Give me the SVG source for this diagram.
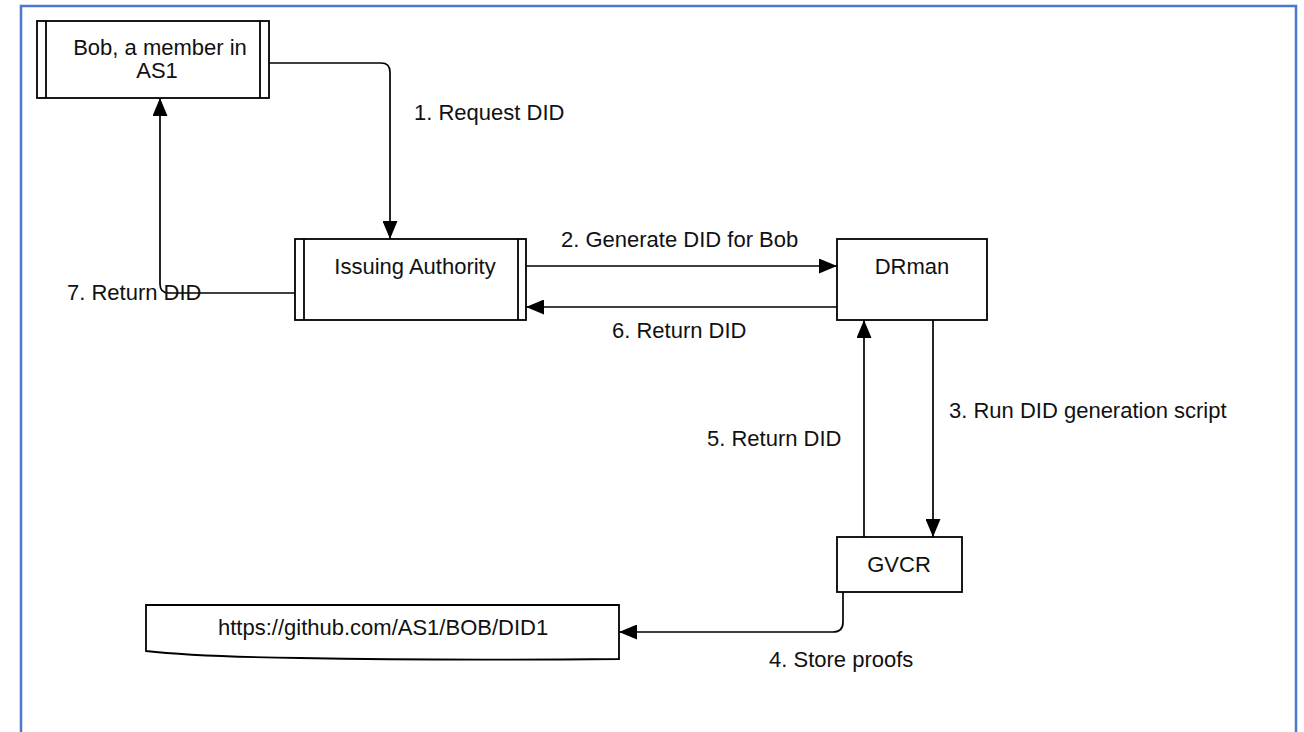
<svg xmlns="http://www.w3.org/2000/svg" width="1304" height="732" viewBox="0 0 1304 732">
  <style>
    .box { fill: #ffffff; stroke: #000000; stroke-width: 1.8; }
    .bar { fill: none; stroke: #000000; stroke-width: 1.8; }
    .edge { fill: none; stroke: #000000; stroke-width: 1.7; }
    .lbl { font-family: "Liberation Sans", Arial, sans-serif; font-size: 22px; fill: #111111; }
    .mid { text-anchor: middle; }
  </style>
  <defs>
    <marker id="arrow" viewBox="0 0 18 15" refX="18" refY="7.5" markerWidth="18" markerHeight="15" markerUnits="userSpaceOnUse" orient="auto">
      <path d="M0,0 L18,7.5 L0,15 Z" fill="#000000"/>
    </marker>
  </defs>

  <rect x="0" y="0" width="1304" height="732" fill="#ffffff"/>
  <!-- outer frame -->
  <path d="M21,740 V6 H1296 V740" fill="none" stroke="#4a78cf" stroke-width="2.5"/>

  <g id="connectors">
    <!-- 1. Request DID -->
    <path class="edge" d="M269,63 H381 Q390,63 390,72 V239" marker-end="url(#arrow)"/>
    <!-- 2. Generate DID for Bob -->
    <path class="edge" d="M526,266 H837" marker-end="url(#arrow)"/>
    <!-- 6. Return DID -->
    <path class="edge" d="M837,307 H526" marker-end="url(#arrow)"/>
    <!-- 7. Return DID -->
    <path class="edge" d="M295,293 H169 Q160,293 160,284 V98" marker-end="url(#arrow)"/>
    <!-- 3. Run DID generation script -->
    <path class="edge" d="M933,320 V537" marker-end="url(#arrow)"/>
    <!-- 5. Return DID -->
    <path class="edge" d="M864,537 V320" marker-end="url(#arrow)"/>
    <!-- 4. Store proofs -->
    <path class="edge" d="M843,592 V622 Q843,632 833,632 H619" marker-end="url(#arrow)"/>

    <text class="lbl" x="414" y="120">1. Request DID</text>
    <text class="lbl" x="561" y="247">2. Generate DID for Bob</text>
    <text class="lbl" x="612" y="338">6. Return DID</text>
    <text class="lbl" x="67" y="300">7. Return DID</text>
    <text class="lbl" x="949" y="418">3. Run DID generation script</text>
    <text class="lbl" x="707" y="446">5. Return DID</text>
    <text class="lbl" x="769" y="667">4. Store proofs</text>
  </g>

  <g id="bob">
    <rect class="box" x="37" y="21" width="232" height="77"/>
    <line class="bar" x1="46" y1="21" x2="46" y2="98"/>
    <line class="bar" x1="260" y1="21" x2="260" y2="98"/>
    <text class="lbl mid" x="160" y="55">Bob, a member in</text>
    <text class="lbl mid" x="157" y="78">AS1</text>
  </g>

  <g id="issuing-authority">
    <rect class="box" x="295" y="239" width="231" height="81"/>
    <line class="bar" x1="304" y1="239" x2="304" y2="320"/>
    <line class="bar" x1="518" y1="239" x2="518" y2="320"/>
    <text class="lbl mid" x="415" y="274">Issuing Authority</text>
  </g>

  <g id="drman">
    <rect class="box" x="837" y="239" width="150" height="81"/>
    <text class="lbl mid" x="912" y="274">DRman</text>
  </g>

  <g id="gvcr">
    <rect class="box" x="837" y="537" width="125" height="55"/>
    <text class="lbl mid" x="899" y="572">GVCR</text>
  </g>

  <g id="proof-store">
    <path class="box" d="M146,605 H619 V659 C520,660 400,660 300,658 C230,657 180,655 146,651 Z"/>
    <text class="lbl" x="218" y="635">https://github.com/AS1/BOB/DID1</text>
  </g>
</svg>
